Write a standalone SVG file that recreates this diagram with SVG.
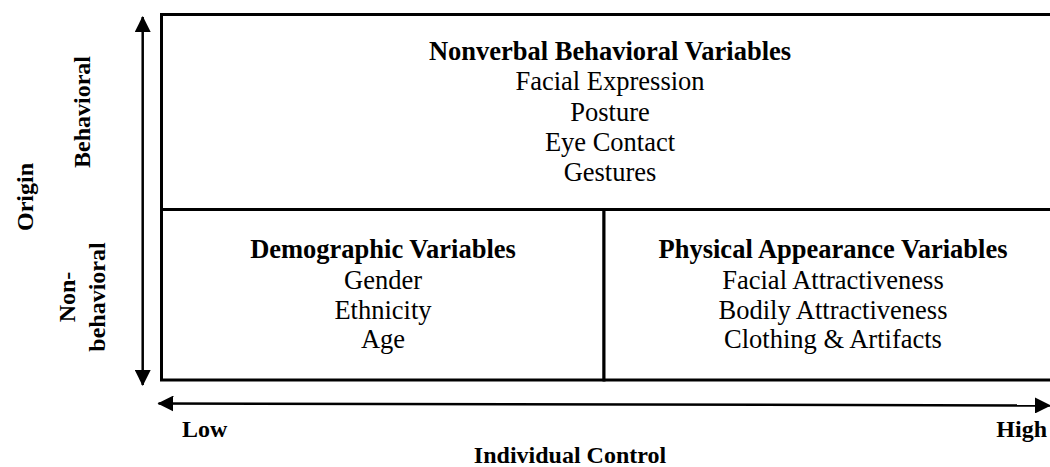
<svg xmlns="http://www.w3.org/2000/svg" width="1050" height="467" viewBox="0 0 1050 467">
  <style>
    text { font-family: "Liberation Serif", "Times New Roman", serif; fill: #000; }
    .cell { font-size: 26.5px; text-anchor: middle; }
    .head { font-weight: bold; }
    .axis { font-size: 24px; font-weight: bold; }
    .box { fill: #fff; stroke: #000; stroke-width: 3; }
    .arrow { stroke: #000; stroke-width: 2.5; fill: none; }
  </style>
  <defs>
    <marker id="head" viewBox="0 0 16 16" refX="15" refY="8" markerWidth="16" markerHeight="16" markerUnits="userSpaceOnUse" orient="auto-start-reverse">
      <path d="M0,0 L16,8 L0,16 Z" fill="#000"/>
    </marker>
  </defs>

  <rect width="1050" height="467" fill="#fff"/>

  <!-- upper cell: spans the full width of the grid -->
  <g id="nonverbal">
    <rect class="box" x="161.5" y="14.5" width="900" height="195"/>
    <text class="cell head" x="610" y="60">Nonverbal Behavioral Variables</text>
    <text class="cell" x="610" y="90">Facial Expression</text>
    <text class="cell" x="610" y="121">Posture</text>
    <text class="cell" x="610" y="151">Eye Contact</text>
    <text class="cell" x="610" y="181">Gestures</text>
  </g>

  <!-- lower left cell -->
  <g id="demographic">
    <rect class="box" x="161.5" y="209.5" width="442.5" height="170.5"/>
    <text class="cell head" x="383" y="258">Demographic Variables</text>
    <text class="cell" x="383" y="289">Gender</text>
    <text class="cell" x="383" y="319">Ethnicity</text>
    <text class="cell" x="383" y="348">Age</text>
  </g>

  <!-- lower right cell -->
  <g id="physical">
    <rect class="box" x="604" y="209.5" width="457.5" height="170.5"/>
    <text class="cell head" x="833" y="258">Physical Appearance Variables</text>
    <text class="cell" x="833" y="289">Facial Attractiveness</text>
    <text class="cell" x="833" y="319">Bodily Attractiveness</text>
    <text class="cell" x="833" y="348">Clothing &amp; Artifacts</text>
  </g>

  <!-- axes -->
  <g id="connectors">
    <line class="arrow" x1="142.7" y1="17" x2="142.7" y2="385" marker-start="url(#head)" marker-end="url(#head)"/>
    <line class="arrow" x1="158.5" y1="403.5" x2="1050" y2="405.5" marker-start="url(#head)" marker-end="url(#head)"/>
  </g>

  <!-- axis labels -->
  <g id="origin-axis">
    <text class="axis" text-anchor="middle" transform="translate(33,197) rotate(-90)">Origin</text>
    <text class="axis" text-anchor="middle" transform="translate(90,112) rotate(-90)">Behavioral</text>
    <text class="axis" text-anchor="middle" transform="translate(75,297) rotate(-90)">Non-</text>
    <text class="axis" text-anchor="middle" transform="translate(105,297) rotate(-90)">behavioral</text>
  </g>
  <g id="control-axis">
    <text class="axis" x="182" y="437">Low</text>
    <text class="axis" x="1047" y="437" text-anchor="end">High</text>
    <text class="axis" x="570" y="463" text-anchor="middle">Individual Control</text>
  </g>
</svg>
